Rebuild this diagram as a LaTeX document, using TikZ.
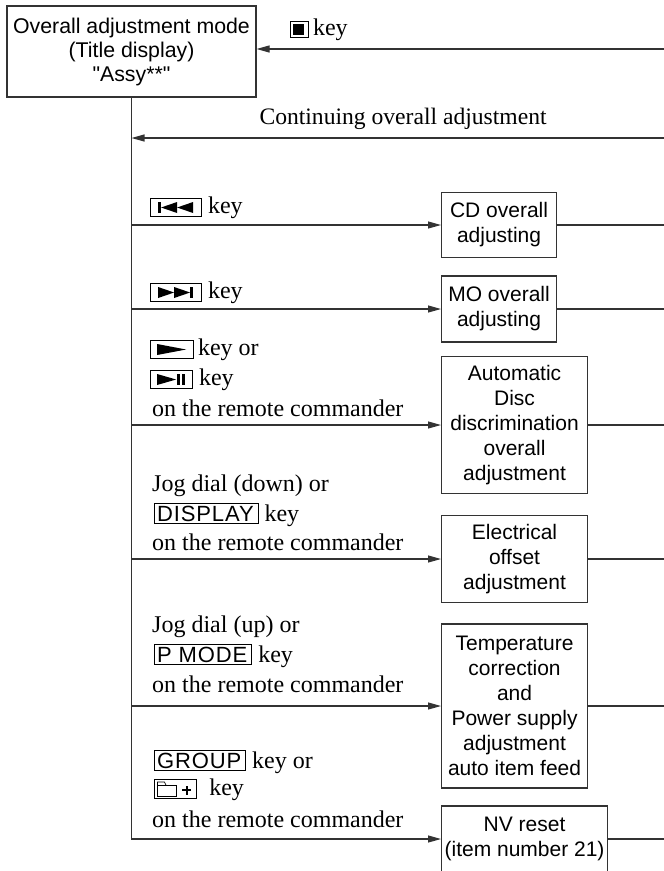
\documentclass[tikz,border=0pt]{standalone}
\usepackage{fontspec}
\setmainfont{Liberation Serif}
\setsansfont{Liberation Sans}
\usepackage{tikz}
\usetikzlibrary{arrows.meta, positioning}

% key caps and the symbols printed on them
\newcommand{\keycap}[2][2pt]{{\setlength{\fboxsep}{#1}\setlength{\fboxrule}{0.9pt}%
  \fbox{\sffamily\fontsize{22}{22}\selectfont\addfontfeatures{LetterSpace=4}#2\hspace{2pt}}}}
\newcommand{\stopsym}{\tikz[baseline=0pt]\fill (0pt,0pt) rectangle (11pt,11pt);}
\newcommand{\prevsym}{\hspace{4pt}\tikz[baseline=0pt]{\fill (0pt,0pt) rectangle (3pt,11pt);
  \fill (3pt,5.5pt) -- (19pt,11pt) -- (19pt,0pt) -- cycle;
  \fill (19pt,5.5pt) -- (35pt,11pt) -- (35pt,0pt) -- cycle;}\hspace{3pt}}
\newcommand{\nextsym}{\hspace{4pt}\tikz[baseline=0pt]{\fill (0pt,0pt) -- (16pt,5.5pt) -- (0pt,11pt) -- cycle;
  \fill (16pt,0pt) -- (32pt,5.5pt) -- (16pt,11pt) -- cycle;
  \fill (32pt,0pt) rectangle (35pt,11pt);}\hspace{3pt}}
\newcommand{\playsym}{\hspace{3pt}\tikz[baseline=0pt]\fill (0pt,0pt) -- (29pt,5.5pt) -- (0pt,11pt) -- cycle;\hspace{2pt}}
\newcommand{\pausesym}{\hspace{3pt}\tikz[baseline=0pt]{\fill (0pt,0pt) -- (19pt,5.5pt) -- (0pt,11pt) -- cycle;
  \fill (20pt,0pt) rectangle (23pt,11pt);
  \fill (25pt,0pt) rectangle (28pt,11pt);}\hspace{2pt}}
\newcommand{\foldersym}{\tikz[baseline=0pt]{\draw[line width=0.7pt] (0pt,-1pt) rectangle (19pt,10pt);
  \draw[line width=0.7pt] (0pt,10pt) -- (0pt,13pt) -- (7pt,13pt) -- (8.5pt,10pt);
  \draw[line width=1.8pt] (25pt,5pt) -- (34pt,5pt) (29.5pt,0.5pt) -- (29.5pt,9.5pt);}}

\begin{document}
\begin{tikzpicture}[x=1pt, y=-1pt, >={Triangle[length=13pt, width=7pt]},
    flow/.style={line width=1.1pt, draw=black!80},
    stage/.style={draw=black!80, line width=1.1pt, anchor=west, align=center, inner sep=0pt,
      font=\sffamily\fontsize{21}{25}\selectfont},
    keyline/.style={anchor=base west, inner sep=0pt, font=\fontsize{24}{29}\selectfont}]

  \useasboundingbox (0,0) rectangle (664,871);

  % mode box, and where the flow comes back in from the right
  \node [stage, anchor=center, minimum width=249pt, minimum height=91pt,
    font=\sffamily\fontsize{21.3}{24}\selectfont] (mode) at (131.5,51.5)
    {Overall adjustment mode\\(Title display)\\\textquotedbl Assy**\textquotedbl};
  \coordinate (rim) at (664,0);
  \coordinate (stopin) at (664,49);
  \coordinate (backin) at (664,138);

  \draw [flow, ->] (stopin) -- (stopin -| mode.east);
  \node [keyline] (stopkey) at (290,35) {\keycap{\stopsym}\,key};

  \draw [flow, ->] (backin) -- (backin -| mode.south)
    node [pos=0.49, above=8pt, inner sep=0pt, font=\fontsize{23.6}{29}\selectfont] (backtxt)
    {Continuing overall adjustment};

  % adjustment stages
  \node [stage, minimum width=115pt, minimum height=65pt] (cd) at (441,225) {CD overall\\adjusting};
  \node [stage, minimum width=115pt, minimum height=66pt] (mo) at (441,309) {MO overall\\adjusting};
  \node [stage, minimum width=146pt, minimum height=137pt] (disc) at (441,425)
    {Automatic\\Disc\\discrimination\\overall\\adjustment};
  \node [stage, minimum width=146pt, minimum height=87pt] (offset) at (441,559)
    {Electrical\\offset\\adjustment};
  \node [stage, minimum width=146pt, minimum height=164pt] (temp) at (441,706)
    {Temperature\\correction\\and\\Power supply\\adjustment\\auto item feed};
  \node [stage, minimum width=166pt, minimum height=66pt] (nv) at (441,839)
    {NV reset\\(item number 21)};

  % trunk down from the mode box, branches into each stage
  \draw [flow, ->] (mode.south) |- (nv.west);
  \foreach \s in {cd, mo, disc, offset, temp}
    \draw [flow, ->] (mode.south |- \s.west) -- (\s.west);
  \foreach \s in {cd, mo, disc, offset, temp, nv}
    \draw [flow] (\s.east) -- (\s.east -| rim);

  % keys on each branch
  \node [keyline] (cdkey) at (150,213) {\keycap[3pt]{\prevsym} key};
  \node [keyline] (mokey) at (150,298) {\keycap[3pt]{\nextsym} key};

  \node [keyline] (disckeya) at (150,355) {\keycap[3pt]{\playsym}\,key or};
  \node [keyline] (disckeyb) at (150,385) {\keycap[3pt]{\pausesym} key};
  \node [keyline] (disckeyc) at (152,416) {on the remote commander};

  \node [keyline] (offkeya) at (152,491) {Jog dial (down) or};
  \node [keyline] (offkeyb) at (154,521) {\keycap{DISPLAY} key};
  \node [keyline] (offkeyc) at (152,550) {on the remote commander};

  \node [keyline] (tempkeya) at (152,632) {Jog dial (up) or};
  \node [keyline] (tempkeyb) at (154,662) {\keycap{P MODE} key};
  \node [keyline] (tempkeyc) at (152,692) {on the remote commander};

  \node [keyline] (nvkeya) at (154,768) {\keycap{GROUP} key or};
  \node [keyline] (nvkeyb) at (154,795) {\keycap[2pt]{\foldersym}\ \ key};
  \node [keyline] (nvkeyc) at (152,827) {on the remote commander};

\end{tikzpicture}
\end{document}
